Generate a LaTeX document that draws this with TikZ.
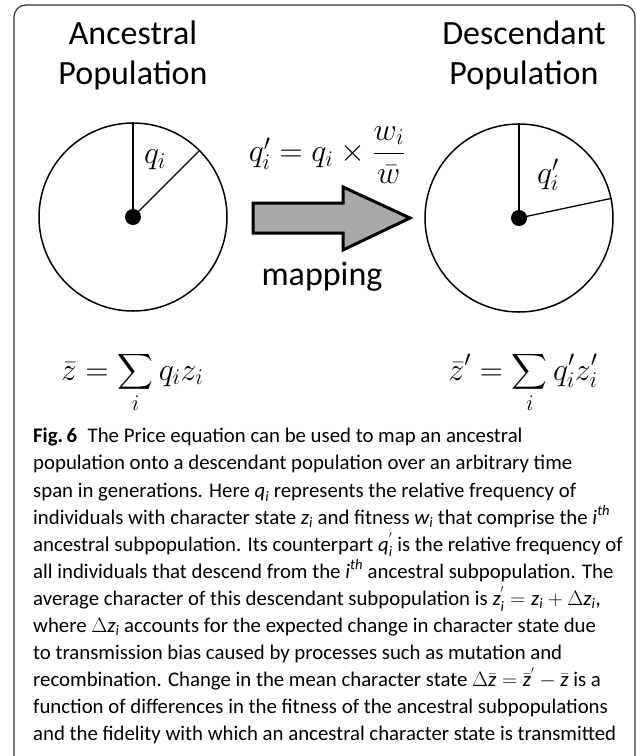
\RequirePackage{fix-cm}
\documentclass[tikz,border=0pt]{standalone}
\usepackage{amsmath}
\usepackage{fontspec}
\setmainfont{Carlito}
\usepackage{tikz}

% italic variable in the caption text
\newcommand{\capsym}[1]{\textit{#1}}

\begin{document}
\begin{tikzpicture}[x=1pt, y=-1pt,
  poplbl/.style={align=center, inner sep=0pt, font=\fontsize{34}{40}\selectfont},
  pop/.style={draw, circle, line width=1.5pt, minimum size=188pt, inner sep=0pt},
  hub/.style={fill, circle, minimum size=16pt, inner sep=0pt},
  spoke/.style={line width=1.3pt},
  eqn/.style={inner sep=0pt, font=\fontsize{32}{38}\selectfont},
  captxt/.style={align=left, inner sep=0pt, anchor=north west, font=\fontsize{20.8}{27.1}\selectfont},
  maparr/.style={draw, line width=3pt, fill=black!34, line join=miter},
  frame/.style={draw=black!80, line width=1.2pt, rounded corners=12pt}]
\useasboundingbox (0,0) rectangle (637,756);
\clip (0,0) rectangle (637,756);
\draw[frame] (14,5) rectangle (635,768);

% the two populations
\node[pop] (anc) at (133,217) {};
\node[pop] (des) at (519,218) {};
\node[hub] (ahub) at (anc.center) {};
\node[hub] (dhub) at (des.center) {};
\draw[spoke] (ahub.center) -- (anc.north);
\draw[spoke] (ahub.center) -- (anc.45);
\draw[spoke] (dhub.center) -- (des.north);
\draw[spoke] (dhub.center) -- (des.12);
\node[eqn] (qa) at (155,160) {$q_i$};
\node[eqn] (qd) at (548,175) {$q_i'$};

\node[poplbl] (anchead) at (133,55) {Ancestral\\Population};
\node[poplbl] (deshead) at (524,55) {Descendant\\Population};

% mapping arrow
\draw[maparr] (253,203) -- (343,203) -- (343,187) -- (410,218) -- (343,250) -- (343,233) -- (253,233) -- cycle;
\node[eqn] (rule) at (327,155) {$q_i' = q_i \times \dfrac{w_i}{\bar{w}}$};
\node[poplbl, anchor=base] (maplbl) at (322,285) {mapping};

% means
\node[eqn, anchor=base] (zmean) at (132,380) {$\displaystyle \bar{z} = \sum_i q_i z_i$};
\node[eqn, anchor=base] (zmeand) at (523,380) {$\displaystyle \bar{z}' = \sum_i q_i' z_i'$};

\node[captxt] (caption) at (33,428) {%
\textbf{Fig.\,6}\enspace The Price equation can be used to map an ancestral\\
population onto a descendant population over an arbitrary time\\
span in generations. Here $\capsym{q}_{\capsym{i}}$ represents the relative frequency of\\
individuals with character state $\capsym{z}_{\capsym{i}}$ and fitness $\capsym{w}_{\capsym{i}}$ that comprise the $\capsym{i}^{\capsym{th}}$\\
ancestral subpopulation. Its counterpart $\capsym{q}_{\capsym{i}}^{'}$ is the relative frequency of\\
all individuals that descend from the $\capsym{i}^{\capsym{th}}$ ancestral subpopulation. The\\
average character of this descendant subpopulation is $\capsym{z}_{\capsym{i}}^{'} = \capsym{z}_{\capsym{i}} + \Delta \capsym{z}_{\capsym{i}}$,\\
where $\Delta \capsym{z}_{\capsym{i}}$ accounts for the expected change in character state due\\
to transmission bias caused by processes such as mutation and\\
recombination. Change in the mean character state $\Delta\bar{\capsym{z}} = \bar{\capsym{z}}^{'} - \bar{\capsym{z}}$ is a\\
function of differences in the fitness of the ancestral subpopulations\\
and the fidelity with which an ancestral character state is transmitted};
\end{tikzpicture}
\end{document}
